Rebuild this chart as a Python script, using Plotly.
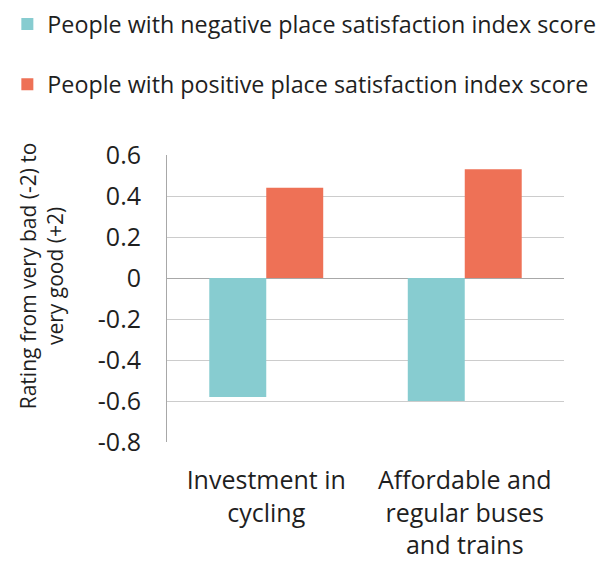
import plotly.graph_objects as go

categories = ["Investment in<br>cycling", "Affordable and<br>regular buses<br>and trains"]
negative_scores = [-0.58, -0.60]
positive_scores = [0.44, 0.53]
series_names = [
    "People with negative place satisfaction index score",
    "People with positive place satisfaction index score",
]
y_ticks = [0.6, 0.4, 0.2, 0, -0.2, -0.4, -0.6, -0.8]
y_ticktext = ["0.6", "0.4", "0.2", "0", "-0.2", "-0.4", "-0.6", "-0.8"]

FONT = "Open Sans"
TEXT = "#1f1f1f"

fig = go.Figure()
fig.add_trace(go.Bar(
    x=categories, y=negative_scores, name=series_names[0],
    marker=dict(color="#87CCD0", line=dict(width=0)),
    legendgroup="neg",
))
fig.add_trace(go.Bar(
    x=categories, y=positive_scores, name=series_names[1],
    marker=dict(color="#EE7156", line=dict(width=0)),
    legendgroup="pos",
))

fig.update_layout(
    width=612, height=561,
    margin=dict(l=167, r=48, t=155, b=119, autoexpand=False),
    paper_bgcolor="white", plot_bgcolor="white",
    barmode="group", bargap=0.426, bargroupgap=0,
    font=dict(family=FONT, color=TEXT, size=22),
    showlegend=True,
    legend=dict(
        orientation="v", xref="container", yref="container",
        x=0.012, xanchor="left", y=0.996, yanchor="top",
        font=dict(family=FONT, size=23.3, color=TEXT),
        tracegroupgap=27, itemwidth=30, traceorder="grouped",
        bgcolor="rgba(0,0,0,0)",
    ),
    xaxis=dict(
        showgrid=False, showline=False, zeroline=False,
        tickfont=dict(family=FONT, size=25, color=TEXT),
        ticks="", ticklabelstandoff=21, automargin=False,
    ),
    yaxis=dict(
        range=[-0.8, 0.6], tickvals=y_ticks, ticktext=y_ticktext,
        showgrid=True, gridcolor="#cccccc", gridwidth=1,
        zeroline=True, zerolinecolor="#a8a8a8", zerolinewidth=1,
        showline=True, linecolor="#a8a8a8", linewidth=1,
        tickfont=dict(family=FONT, size=25, color=TEXT),
        ticks="", ticklabelstandoff=20, automargin=False,
    ),
    annotations=[dict(
        text="Rating from very bad (-2) to<br>very good (+2)",
        xref="paper", yref="paper", x=-0.317, y=0.578,
        xanchor="center", yanchor="middle", textangle=-90,
        showarrow=False, font=dict(family=FONT, size=21, color=TEXT),
    )],
)

fig.write_html("out.html")
